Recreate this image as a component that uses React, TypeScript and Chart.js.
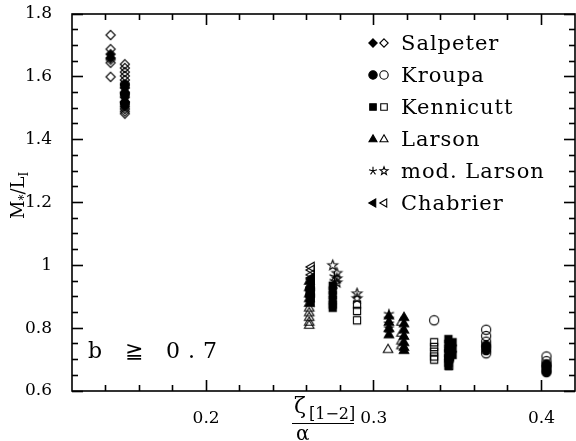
import React, { useEffect, useRef } from 'react';
import { Chart, registerables } from 'chart.js';
Chart.register(...registerables);

const X_MIN = 0.12;
const X_MAX = 0.42;
const Y_MIN = 0.6;
const Y_MAX = 1.8;
const xTickValues = [0.2, 0.3, 0.4];
const xTickLabels = ['0.2', '0.3', '0.4'];
const yTickValues = [0.6, 0.8, 1.0, 1.2, 1.4, 1.6, 1.8];
const yTickLabels = ['0.6', '0.8', '1', '1.2', '1.4', '1.6', '1.8'];
const xMinorTicks = [0.14, 0.16, 0.18, 0.22, 0.24, 0.26, 0.28, 0.32, 0.34, 0.36, 0.38];
const yMinorTicks = [0.65, 0.7, 0.75, 0.85, 0.9, 0.95, 1.05, 1.1, 1.15, 1.25, 1.3, 1.35, 1.45, 1.5, 1.55, 1.65, 1.7, 1.75];

const salpeterFilled = [[0.143, 1.672], [0.143, 1.66], [0.1515, 1.565], [0.1515, 1.55], [0.1515, 1.535], [0.1515, 1.52], [0.1515, 1.505]];
const salpeterOpen = [[0.143, 1.733], [0.143, 1.688], [0.143, 1.655], [0.143, 1.645], [0.143, 1.6], [0.1515, 1.64], [0.1515, 1.628], [0.1515, 1.615], [0.1515, 1.603], [0.1515, 1.59], [0.1515, 1.498], [0.1515, 1.49], [0.1515, 1.483]];
const kroupaFilled = [[0.1515, 1.575], [0.1515, 1.545], [0.1515, 1.515], [0.262, 0.925], [0.262, 0.905], [0.345, 0.73], [0.345, 0.71], [0.345, 0.7], [0.367, 0.745], [0.367, 0.73], [0.403, 0.685], [0.403, 0.675], [0.403, 0.665], [0.403, 0.66]];
const kroupaOpen = [[0.336, 0.825], [0.367, 0.795], [0.367, 0.775], [0.367, 0.757], [0.367, 0.74], [0.367, 0.72], [0.403, 0.71], [0.403, 0.695], [0.403, 0.68]];
const kennicuttFilled = [[0.2755, 0.935], [0.2755, 0.92], [0.2755, 0.905], [0.2755, 0.89], [0.2755, 0.875], [0.2755, 0.865], [0.3445, 0.765], [0.3445, 0.75], [0.3445, 0.735], [0.3445, 0.72], [0.3445, 0.705], [0.3445, 0.69], [0.3445, 0.68], [0.347, 0.755], [0.347, 0.735], [0.347, 0.715]];
const kennicuttOpen = [[0.29, 0.875], [0.29, 0.855], [0.29, 0.825], [0.336, 0.755], [0.336, 0.74], [0.336, 0.725], [0.336, 0.71], [0.336, 0.7], [0.345, 0.68]];
const larsonFilled = [[0.2615, 0.95], [0.2615, 0.93], [0.2615, 0.91], [0.2615, 0.895], [0.2615, 0.88], [0.309, 0.84], [0.309, 0.82], [0.309, 0.8], [0.309, 0.78], [0.318, 0.835], [0.318, 0.815], [0.318, 0.795], [0.318, 0.775], [0.318, 0.755], [0.318, 0.74], [0.318, 0.73]];
const larsonOpen = [[0.2615, 0.865], [0.2615, 0.85], [0.2615, 0.835], [0.2615, 0.82], [0.2615, 0.81], [0.3085, 0.733], [0.3165, 0.82], [0.3165, 0.785], [0.3165, 0.76], [0.3165, 0.745]];
const modLarsonFilled = [[0.2765, 0.965], [0.2765, 0.95], [0.2765, 0.94], [0.309, 0.845], [0.309, 0.83], [0.309, 0.815], [0.309, 0.8], [0.309, 0.785]];
const modLarsonOpen = [[0.2755, 1.0], [0.278, 0.975], [0.278, 0.958], [0.278, 0.945], [0.29, 0.91], [0.29, 0.895]];
const chabrierFilled = [[0.2625, 0.96], [0.2625, 0.945], [0.2625, 0.93], [0.2625, 0.915], [0.2625, 0.9], [0.2625, 0.885]];
const chabrierOpen = [[0.2625, 0.995], [0.2625, 0.985], [0.2625, 0.97], [0.2625, 0.955]];

const legendNames = ['Salpeter', 'Kroupa', 'Kennicutt', 'Larson', 'mod. Larson', 'Chabrier'];
const legendKinds = ['diamond', 'circle', 'square', 'triUp', 'star', 'triLeft'];
const annotationText = 'b ≧ 0.7';

function markerPath(ctx: CanvasRenderingContext2D, kind: string, x: number, y: number, r: number, filled: boolean) {
  ctx.beginPath();
  if (kind === 'diamond') {
    ctx.moveTo(x, y - r); ctx.lineTo(x + r, y); ctx.lineTo(x, y + r); ctx.lineTo(x - r, y); ctx.closePath();
  } else if (kind === 'circle') {
    ctx.arc(x, y, r, 0, Math.PI * 2);
  } else if (kind === 'square') {
    const h = r * 0.78;
    ctx.rect(x - h, y - h, 2 * h, 2 * h);
  } else if (kind === 'triUp') {
    ctx.moveTo(x, y - r); ctx.lineTo(x + r * 0.95, y + r * 0.65); ctx.lineTo(x - r * 0.95, y + r * 0.65); ctx.closePath();
  } else if (kind === 'triLeft') {
    ctx.moveTo(x - r, y); ctx.lineTo(x + r * 0.65, y - r * 0.95); ctx.lineTo(x + r * 0.65, y + r * 0.95); ctx.closePath();
  } else if (kind === 'star') {
    if (filled) {
      for (let i = 0; i < 5; i++) {
        const a = -Math.PI / 2 + (i * 2 * Math.PI) / 5;
        ctx.moveTo(x, y);
        ctx.lineTo(x + r * Math.cos(a), y + r * Math.sin(a));
      }
    } else {
      for (let i = 0; i < 10; i++) {
        const a = -Math.PI / 2 + (i * Math.PI) / 5;
        const rr = i % 2 === 0 ? r : r * 0.42;
        const px = x + rr * Math.cos(a);
        const py = y + rr * Math.sin(a);
        if (i === 0) ctx.moveTo(px, py); else ctx.lineTo(px, py);
      }
      ctx.closePath();
    }
  }
}

function drawMarker(ctx: CanvasRenderingContext2D, kind: string, x: number, y: number, r: number, filled: boolean) {
  ctx.save();
  ctx.strokeStyle = '#000';
  ctx.fillStyle = '#000';
  ctx.lineWidth = 1.1;
  markerPath(ctx, kind, x, y, r, filled);
  if (filled && kind !== 'star') ctx.fill();
  ctx.stroke();
  ctx.restore();
}

function makeMarkerCanvas(kind: string, filled: boolean, r: number) {
  const size = Math.ceil(2 * r + 4);
  const c = document.createElement('canvas');
  c.width = size;
  c.height = size;
  const ctx = c.getContext('2d')!;
  drawMarker(ctx, kind, size / 2, size / 2, r, filled);
  return c;
}

const overlayPlugin = {
  id: 'overlay',
  afterDraw(chart: any) {
    const ctx: CanvasRenderingContext2D = chart.ctx;
    const area = chart.chartArea;
    ctx.save();
    ctx.fillStyle = '#000000';
    ctx.strokeStyle = '#000000';
    ctx.lineWidth = 1.6;
    ctx.strokeRect(area.left, area.top, area.right - area.left, area.bottom - area.top);

    // legend
    ctx.font = '21px "DejaVu Serif"';
    (ctx as any).letterSpacing = '1px';
    ctx.textBaseline = 'alphabetic';
    ctx.textAlign = 'left';
    for (let i = 0; i < legendNames.length; i++) {
      const y = 43 + i * 32;
      drawMarker(ctx, legendKinds[i], 373, y, 4.2, true);
      drawMarker(ctx, legendKinds[i], 384, y, 4.2, false);
      ctx.fillText(legendNames[i], 401, y + 7);
    }

    // annotation
    ctx.font = '22px "DejaVu Serif"';
    (ctx as any).letterSpacing = '8px';
    ctx.fillText(annotationText, 88, 358);
    (ctx as any).letterSpacing = '0px';

    // y title
    ctx.save();
    ctx.translate(24, 195);
    ctx.rotate(-Math.PI / 2);
    ctx.textBaseline = 'alphabetic';
    ctx.font = '18px "DejaVu Serif"';
    let cx = -24;
    ctx.fillText('M', cx, 0); cx += ctx.measureText('M').width;
    ctx.font = '12px "DejaVu Serif"';
    ctx.fillText('*', cx, 4); cx += ctx.measureText('*').width;
    ctx.font = '18px "DejaVu Serif"';
    ctx.fillText('/', cx, 0); cx += ctx.measureText('/').width;
    ctx.fillText('L', cx, 0); cx += ctx.measureText('L').width;
    ctx.font = '12px "DejaVu Serif"';
    ctx.fillText('I', cx, 4);
    ctx.restore();

    // x title
    ctx.font = '22px "DejaVu Serif"';
    ctx.fillText('ζ', 294, 413);
    ctx.font = '16px "DejaVu Serif"';
    ctx.fillText('[1−2]', 309, 419);
    ctx.lineWidth = 1.2;
    ctx.beginPath();
    ctx.moveTo(292, 423.5); ctx.lineTo(354, 423.5);
    ctx.stroke();
    ctx.font = '20px "DejaVu Serif"';
    ctx.fillText('α', 296, 440);
    ctx.restore();
  },
};

// zero-size helper axes whose own grid tick marks (negative length) point into the plot
function tickAxis(axis: 'x' | 'y', position: string, values: number[], len: number) {
  return {
    type: 'linear',
    axis,
    position,
    min: axis === 'x' ? X_MIN : Y_MIN,
    max: axis === 'x' ? X_MAX : Y_MAX,
    weight: 0,
    border: { display: false },
    grid: {
      display: true,
      drawOnChartArea: false,
      drawTicks: true,
      tickLength: -len,
      tickColor: '#000000',
      tickWidth: 1.6,
      color: 'rgba(0,0,0,0)',
    },
    ticks: { display: false },
    afterBuildTicks: (s: any) => { s.ticks = values.map((v) => ({ value: v })); },
    afterFit: (s: any) => {
      if (axis === 'x') s.height = 0; else s.width = 0;
      s.paddingLeft = 0; s.paddingRight = 0; s.paddingTop = 0; s.paddingBottom = 0;
    },
  };
}

export default function App() {
  const ref = useRef<HTMLCanvasElement | null>(null);
  useEffect(() => {
    if (!ref.current) return;
    const R: Record<string, number> = { diamond: 4.6, circle: 4.6, square: 4.6, triUp: 5, triLeft: 5, star: 5.2 };
    const mk = (label: string, pts: number[][], kind: string, filled: boolean) => ({
      label,
      data: pts.map(([x, y]) => ({ x, y })),
      pointStyle: makeMarkerCanvas(kind, filled, R[kind]),
      showLine: false,
      xAxisID: 'x',
      yAxisID: 'y',
    });
    const datasets = [
      mk('Salpeter open', salpeterOpen, 'diamond', false),
      mk('Kroupa open', kroupaOpen, 'circle', false),
      mk('Kennicutt open', kennicuttOpen, 'square', false),
      mk('Larson open', larsonOpen, 'triUp', false),
      mk('mod. Larson open', modLarsonOpen, 'star', false),
      mk('Chabrier open', chabrierOpen, 'triLeft', false),
      mk('Salpeter', salpeterFilled, 'diamond', true),
      mk('Kroupa', kroupaFilled, 'circle', true),
      mk('Kennicutt', kennicuttFilled, 'square', true),
      mk('Larson', larsonFilled, 'triUp', true),
      mk('mod. Larson', modLarsonFilled, 'star', true),
      mk('Chabrier', chabrierFilled, 'triLeft', true),
    ];
    const chart = new Chart(ref.current, {
      type: 'scatter',
      data: { datasets },
      options: {
        animation: false,
        responsive: true,
        maintainAspectRatio: false,
        layout: { autoPadding: false, padding: { top: 14, right: 1, left: 0, bottom: 0 } },
        plugins: { legend: { display: false }, tooltip: { enabled: false } },
        scales: {
          x: {
            type: 'linear',
            position: 'bottom',
            weight: 10,
            min: X_MIN,
            max: X_MAX,
            grid: { display: false },
            border: { display: false },
            afterBuildTicks: (s: any) => { s.ticks = xTickValues.map((v) => ({ value: v })); },
            afterFit: (s: any) => { s.height = 50; s.paddingLeft = 0; s.paddingRight = 0; },
            ticks: {
              padding: 9,
              color: '#000',
              font: { family: 'DejaVu Serif', size: 17 },
              maxRotation: 0,
              autoSkip: false,
              callback: (_v: any, i: number) => xTickLabels[i],
            },
          },
          y: {
            type: 'linear',
            position: 'left',
            weight: 10,
            min: Y_MIN,
            max: Y_MAX,
            grid: { display: false },
            border: { display: false },
            afterBuildTicks: (s: any) => { s.ticks = yTickValues.map((v) => ({ value: v })); },
            afterFit: (s: any) => { s.width = 72; s.paddingTop = 0; s.paddingBottom = 0; },
            ticks: {
              padding: 12,
              color: '#000',
              font: { family: 'DejaVu Serif', size: 17 },
              autoSkip: false,
              callback: (_v: any, i: number) => yTickLabels[i],
            },
          },
          xbMajor: tickAxis('x', 'bottom', xTickValues, 11),
          xbMinor: tickAxis('x', 'bottom', xMinorTicks, 6),
          xtMajor: tickAxis('x', 'top', xTickValues, 11),
          xtMinor: tickAxis('x', 'top', xMinorTicks, 6),
          ylMajor: tickAxis('y', 'left', yTickValues, 11),
          ylMinor: tickAxis('y', 'left', yMinorTicks, 6),
          yrMajor: tickAxis('y', 'right', yTickValues, 11),
          yrMinor: tickAxis('y', 'right', yMinorTicks, 6),
        },
      },
      plugins: [overlayPlugin],
    } as any);
    return () => chart.destroy();
  }, []);
  return (
    <div style={{ position: 'fixed', left: 0, top: 0, width: 576, height: 441, background: '#fff' }}>
      <canvas ref={ref} />
    </div>
  );
}
